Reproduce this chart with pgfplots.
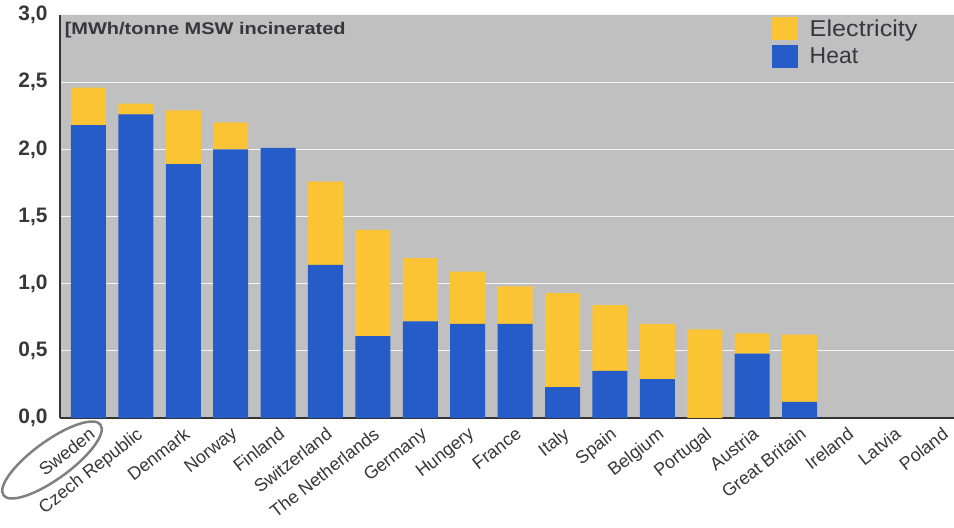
\documentclass[border=0pt]{standalone}
\usepackage{pgfplots}
\pgfplotsset{compat=1.18}
\usepackage{pgfplotstable}
\usepackage{fontspec}
\setmainfont{Liberation Sans}
\definecolor{heatblue}{RGB}{38,92,200}
\definecolor{elecyellow}{RGB}{250,196,52}
\definecolor{plotgray}{RGB}{192,192,192}
\definecolor{labgray}{RGB}{55,55,60}
\pgfplotstableread{
idx heat elec
0 2.18 0.28
1 2.26 0.08
2 1.89 0.40
3 2.00 0.20
4 2.01 0.00
5 1.14 0.62
6 0.61 0.79
7 0.72 0.47
8 0.70 0.39
9 0.70 0.28
10 0.23 0.70
11 0.35 0.49
12 0.29 0.41
13 0.00 0.66
14 0.48 0.15
15 0.12 0.50
16 0.00 0.00
17 0.00 0.00
18 0.00 0.00
}\datatable
\begin{document}
\begin{tikzpicture}[x=1bp,y=1bp]
\path[use as bounding box, fill=white] (0,0) rectangle (954,528);
\begin{axis}[
  at={(60bp,110bp)}, anchor=south west,
  scale only axis, width=896bp, height=403bp,
  xmin=-0.6, xmax=18.3, ymin=0, ymax=3,
  ybar stacked, bar width=35bp,
  axis background/.style={fill=plotgray},
  axis x line=bottom, axis y line=left,
  axis line style={-, draw=black!80, line width=1.5bp},
  ytick={0,0.5,...,3.0},
  major tick length=0pt,
  ymajorgrids, grid style={white!92!gray, line width=1bp},
  /pgf/number format/.cd, use comma, fixed, fixed zerofill, precision=1, assume math mode=true,
  /pgfplots/.cd,
  yticklabel style={font=\fontsize{21}{21}\selectfont\bfseries, text=labgray, xshift=-9bp},
  xtick={0,...,18},
  xticklabels={Sweden, Czech Republic, Denmark, Norway, Finland, Switzerland, The Netherlands, Germany, Hungery, France, Italy, Spain, Belgium, Portugal, Austria, Great Britain, Ireland, Latvia, Poland},
  xticklabel style={rotate=38, anchor=north east, font=\fontsize{18}{18}\selectfont, text=labgray, xshift=-2bp, yshift=-3bp},
  legend style={at={(0.793,0.998)}, anchor=north west, draw=none, fill=none,
    font=\fontsize{23}{23}\selectfont, text=labgray, row sep=5bp, inner sep=1bp},
  legend cell align=left,
  reverse legend,
  legend image code/.code={\fill[#1] (0bp,-11.5bp) rectangle (26bp,11.5bp);},
]
\addplot[fill=heatblue, draw=none] table[x=idx, y=heat] {\datatable};
\addlegendentry{\hspace{10bp}Heat}
\addplot[fill=elecyellow, draw=none] table[x=idx, y=elec] {\datatable};
\addlegendentry{\hspace{10bp}\scalebox{1.1}[1]{Electricity}}
\node[anchor=north west, font=\fontsize{17}{17}\selectfont\bfseries, text=labgray, inner sep=1bp] at (rel axis cs:0.004,0.985) {\scalebox{1.18}[1]{[MWh/tonne MSW incinerated}};
\end{axis}
\draw[black!50, line width=2.5bp, rotate around={36:(52,68)}] (52,68) ellipse (60bp and 19bp);
\end{tikzpicture}
\end{document}
